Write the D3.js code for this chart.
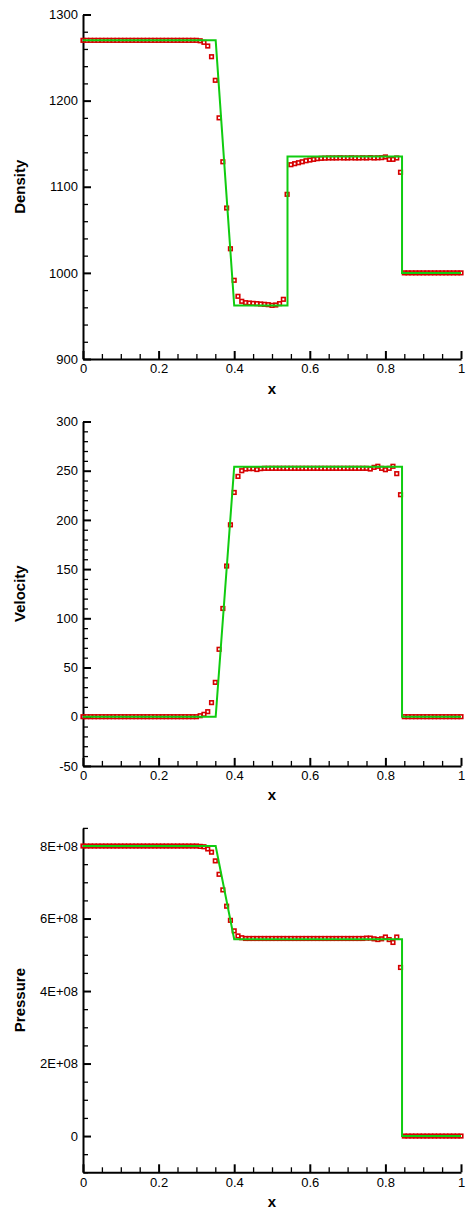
<!DOCTYPE html>
<html>
<head>
<meta charset="utf-8">
<script src="https://cdn.jsdelivr.net/npm/d3@7"></script>
<style>
  html, body { margin: 0; padding: 0; background: #fff; }
  svg { display: block; }
  text { font-family: "Liberation Sans", Arial, Helvetica, sans-serif; }
</style>
</head>
<body>
<svg id="chart" width="469" height="1209"></svg>
<script>
// ---------------- DATA ----------------
const xGrid = [0.00,0.01,0.02,0.03,0.04,0.05,0.06,0.07,0.08,0.09,
  0.10,0.11,0.12,0.13,0.14,0.15,0.16,0.17,0.18,0.19,
  0.20,0.21,0.22,0.23,0.24,0.25,0.26,0.27,0.28,0.29,
  0.30,0.31,0.32,0.33,0.34,0.35,0.36,0.37,0.38,0.39,
  0.40,0.41,0.42,0.43,0.44,0.45,0.46,0.47,0.48,0.49,
  0.50,0.51,0.52,0.53,0.54,0.55,0.56,0.57,0.58,0.59,
  0.60,0.61,0.62,0.63,0.64,0.65,0.66,0.67,0.68,0.69,
  0.70,0.71,0.72,0.73,0.74,0.75,0.76,0.77,0.78,0.79,
  0.80,0.81,0.82,0.83,0.84,0.85,0.86,0.87,0.88,0.89,
  0.90,0.91,0.92,0.93,0.94,0.95,0.96,0.97,0.98,0.99,1.00];

const densityNum = [1270,1270,1270,1270,1270,1270,1270,1270,1270,1270,
  1270,1270,1270,1270,1270,1270,1270,1270,1270,1270,
  1270,1270,1270,1270,1270,1270,1270,1270,1270,1270,
  1270,1269.5,1267.7,1263.4,1251,1223.6,1180,1129,1075.3,1028,
  991.4,972.8,967,965.4,965,964.6,964.3,963.9,963.5,963.1,
  962.3,962.7,964.3,969.3,1091.2,1125.6,1126.8,1127.9,1129,1130.2,
  1131,1131.8,1132.6,1133,1133.2,1133.4,1133.4,1133.4,1133.6,1133.4,
  1133.4,1133.6,1133.4,1133.4,1133.6,1133.4,1133.8,1133.4,1133.6,1133.8,
  1134.6,1131.8,1131.8,1133.4,1116.8,1000,1000,1000,1000,1000,
  1000,1000,1000,1000,1000,1000,1000,1000,1000,1000,1000];

const velocityNum = [0,0,0,0,0,0,0,0,0,0,
  0,0,0,0,0,0,0,0,0,0,
  0,0,0,0,0,0,0,0,0,0,
  0,1,2.4,5.1,14.3,34.9,68.5,110,153.1,195,
  227.9,244.2,250,251.7,252.1,252.1,251.2,252.1,252.4,252.4,
  252.4,252.4,252.4,252.4,252.4,252.4,252.4,252.4,252.4,252.4,
  252.4,252.4,252.4,252.4,252.4,252.4,252.4,252.4,252.4,252.4,
  252.4,252.4,252.4,252.4,252.4,252.4,251.7,253.4,254.5,252.4,
  251,252.4,254.5,247,225.6,0,0,0,0,0,
  0,0,0,0,0,0,0,0,0,0,0];

const pressureNum = [8.0e8,8.0e8,8.0e8,8.0e8,8.0e8,8.0e8,8.0e8,8.0e8,8.0e8,8.0e8,
  8.0e8,8.0e8,8.0e8,8.0e8,8.0e8,8.0e8,8.0e8,8.0e8,8.0e8,8.0e8,
  8.0e8,8.0e8,8.0e8,8.0e8,8.0e8,8.0e8,8.0e8,8.0e8,8.0e8,8.0e8,
  8.0e8,7.99e8,7.98e8,7.92e8,7.83e8,7.59e8,7.22e8,6.79e8,6.34e8,5.95e8,
  5.66e8,5.52e8,5.47e8,5.45e8,5.45e8,5.45e8,5.45e8,5.45e8,5.45e8,5.45e8,
  5.45e8,5.45e8,5.45e8,5.45e8,5.45e8,5.45e8,5.45e8,5.45e8,5.45e8,5.45e8,
  5.45e8,5.45e8,5.45e8,5.45e8,5.45e8,5.45e8,5.45e8,5.45e8,5.45e8,5.45e8,
  5.45e8,5.45e8,5.45e8,5.45e8,5.45e8,5.46e8,5.46e8,5.44e8,5.42e8,5.44e8,
  5.49e8,5.42e8,5.34e8,5.49e8,4.65e8,0,0,0,0,0,
  0,0,0,0,0,0,0,0,0,0,0];

const exactX        = [0, 0.351, 0.400, 0.541, 0.541, 0.844, 0.844, 1];
const densityExact  = [1270, 1270, 962, 962, 1135, 1135, 1000, 1000];
const velocityExact = [0, 0, 254, 254, 254, 254, 0, 0];
const pressureExact = [8.0e8, 8.0e8, 5.43e8, 5.43e8, 5.43e8, 5.43e8, 0, 0];

const xTicks = [0, 0.2, 0.4, 0.6, 0.8, 1];
const densityTicks = [900, 1000, 1100, 1200, 1300];
const velocityTicks = [-50, 0, 50, 100, 150, 200, 250, 300];
const pressureTicks = [0, 2e8, 4e8, 6e8, 8e8];
const pressureTickLabels = ["0", "2E+08", "4E+08", "6E+08", "8E+08"];

// ---------------- LAYOUT ----------------
const svg = d3.select("#chart");
const X0 = 83, X1 = 461;
const x = d3.scaleLinear().domain([0, 1]).range([X0, X1]);
const RED = "#d60000", GREEN = "#10cc10";

const panels = [
  { title: "Density", num: densityNum, exact: densityExact,
    domain: [900, 1300], range: [359, 14.5], major: densityTicks, minorStep: 20,
    fmt: d => String(d) },
  { title: "Velocity", num: velocityNum, exact: velocityExact,
    domain: [-50, 300], range: [765.9, 421.5], major: velocityTicks, minorStep: 10,
    fmt: d => String(d) },
  { title: "Pressure", num: pressureNum, exact: pressureExact,
    domain: [-1e8, 8.5e8], range: [1172.3, 827.9], major: pressureTicks, minorStep: 5e7,
    fmt: d => pressureTickLabels[pressureTicks.indexOf(d)] }
];

function styleAxis(g, w) {
  g.selectAll("path.domain").attr("stroke", "#000").attr("stroke-width", 2);
  g.selectAll(".tick line").attr("stroke", "#000").attr("stroke-width", w);
  g.selectAll(".tick text").attr("fill", "#000").style("font-size", "13px")
    .style("font-family", "'Liberation Sans', Arial, sans-serif");
}

panels.forEach(p => {
  const y = d3.scaleLinear().domain(p.domain).range(p.range);
  const g = svg.append("g");
  const yb = p.range[0], yt = p.range[1];

  // minor ticks
  const yMinor = d3.range(Math.ceil(p.domain[0] / p.minorStep), Math.floor(p.domain[1] / p.minorStep + 1e-9) + 1)
    .map(k => k * p.minorStep)
    .filter(v => !p.major.some(m => Math.abs(m - v) < 1e-6));
  const xMinor = d3.range(0, 21).map(k => k * 0.05)
    .filter(v => !xTicks.some(m => Math.abs(m - v) < 1e-6));

  g.append("g").attr("transform", `translate(${X0},0)`)
    .call(d3.axisLeft(y).tickValues(yMinor).tickSize(-5).tickSizeOuter(0).tickFormat(""))
    .call(a => { a.select("path.domain").remove(); styleAxis(a, 1.3); });
  g.append("g").attr("transform", `translate(0,${yb})`)
    .call(d3.axisBottom(x).tickValues(xMinor).tickSize(-5).tickSizeOuter(0).tickFormat(""))
    .call(a => { a.select("path.domain").remove(); styleAxis(a, 1.3); });

  // major axes
  g.append("g").attr("transform", `translate(${X0},0)`)
    .call(d3.axisLeft(y).tickValues(p.major).tickSize(-8).tickSizeOuter(0).tickPadding(5).tickFormat(p.fmt))
    .call(a => styleAxis(a, 2));
  g.append("g").attr("transform", `translate(0,${yb})`)
    .call(d3.axisBottom(x).tickValues(xTicks).tickSize(-8).tickSizeOuter(0).tickPadding(5).tickFormat(d => String(d)))
    .call(a => styleAxis(a, 2));

  // numerical markers
  const s = 3.6;
  g.append("g").selectAll("rect").data(xGrid.map((xv, i) => [xv, p.num[i]])).join("rect")
    .attr("x", d => x(d[0]) - s / 2).attr("y", d => y(d[1]) - s / 2)
    .attr("width", s).attr("height", s)
    .attr("fill", "none").attr("stroke", RED).attr("stroke-width", 1.6);

  // exact solution
  const line = d3.line().x(d => x(d[0])).y(d => y(d[1]));
  g.append("path").datum(exactX.map((xv, i) => [xv, p.exact[i]]))
    .attr("d", line).attr("fill", "none").attr("stroke", GREEN).attr("stroke-width", 2)
    .attr("stroke-linejoin", "miter");

  // titles
  const yc = (yb + yt) / 2;
  g.append("text").attr("transform", `translate(24.5,${yc}) rotate(-90)`)
    .attr("text-anchor", "middle").style("font-size", "15px").style("font-weight", "bold")
    .text(p.title);
  g.append("text").attr("x", (X0 + X1) / 2).attr("y", yb + 34.5)
    .attr("text-anchor", "middle").style("font-size", "15px").style("font-weight", "bold")
    .text("x");
});
</script>
</body>
</html>
